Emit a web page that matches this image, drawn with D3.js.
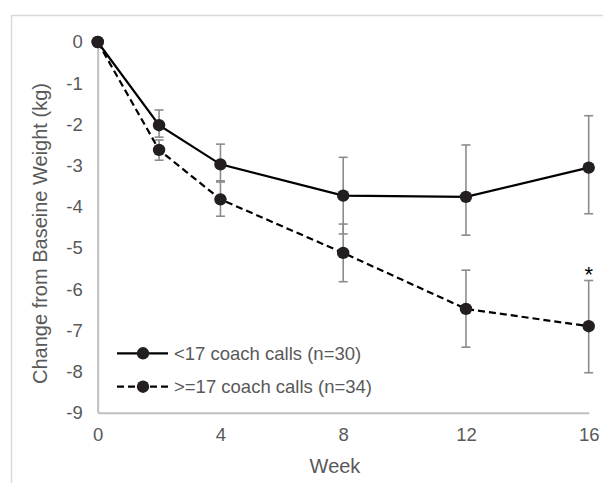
<!DOCTYPE html>
<html><head><meta charset="utf-8">
<script src="https://cdn.jsdelivr.net/npm/d3@7"></script>
<style>body{margin:0;background:#fff}svg{display:block}text{font-family:"Liberation Sans",Arial,sans-serif}</style>
</head><body>
<script>
const weeks = [0, 2, 4, 8, 12, 16];
const xTicks = [0, 4, 8, 12, 16];
const yTicks = [0, -1, -2, -3, -4, -5, -6, -7, -8, -9];
const seriesNames = ["<17 coach calls (n=30)", ">=17 coach calls (n=34)"];
const lowCalls = [0, -2.02, -2.97, -3.73, -3.76, -3.05];
const lowUpper = [0, -1.65, -2.48, -2.80, -2.50, -1.79];
const lowLower = [0, -2.31, -3.40, -4.66, -4.69, -4.17];
const highCalls = [0, -2.62, -3.82, -5.12, -6.48, -6.90];
const highUpper = [0, -2.38, -3.37, -4.42, -5.54, -5.79];
const highLower = [0, -2.87, -4.23, -5.82, -7.41, -8.03];
const sigMarks = [{week: 16, label: "*"}];

const W = 603, H = 483;
const svg = d3.select("body").append("svg").attr("width", W).attr("height", H);
// outer chart border
svg.append("rect").attr("x", 11.5).attr("y", 15.5).attr("width", W).attr("height", H)
  .attr("fill", "none").attr("stroke", "#d9d9d9").attr("stroke-width", 1.5);

const x = d3.scaleLinear().domain([0, 16]).range([97.7, 588.7]);
const y = d3.scaleLinear().domain([0, -9]).range([42, 412.7]);
const axisColor = "#bfbfbf", textColor = "#595959";

// axes
const xAxis = svg.append("g").attr("transform", `translate(0,${y(-9)})`)
  .call(d3.axisBottom(x).tickValues(xTicks).tickSize(0).tickPadding(15).tickFormat(d3.format("d")));
const yAxis = svg.append("g").attr("transform", `translate(${x(0)},0)`)
  .call(d3.axisLeft(y).tickValues(yTicks).tickSize(0).tickPadding(15).tickFormat(d => d === 0 ? "0" : "-" + Math.abs(d)));
[xAxis, yAxis].forEach(g => {
  g.select(".domain").attr("stroke", axisColor).attr("stroke-width", 2);
  g.selectAll("text").attr("fill", textColor).attr("font-size", 18.5);
});
xAxis.selectAll("text").attr("dy", "0.71em");

svg.append("text").attr("x", 335).attr("y", 473).attr("text-anchor", "middle")
  .attr("fill", textColor).attr("font-size", 20).text("Week");
svg.append("text").attr("transform", `translate(47,${y(-4.65)}) rotate(-90)`).attr("text-anchor", "middle")
  .attr("fill", textColor).attr("font-size", 20).text("Change from Baseine Weight (kg)");

const series = [
  {vals: lowCalls, up: lowUpper, lo: lowLower, dash: null},
  {vals: highCalls, up: highUpper, lo: highLower, dash: "7,4"}
];
// error bars
series.forEach(s => {
  const g = svg.append("g").attr("stroke", "#8c8c8c").attr("stroke-width", 1.6);
  weeks.forEach((w, i) => {
    if (s.up[i] === s.lo[i]) return;
    g.append("line").attr("x1", x(w)).attr("x2", x(w)).attr("y1", y(s.up[i])).attr("y2", y(s.lo[i]));
    [s.up[i], s.lo[i]].forEach(v => g.append("line").attr("x1", x(w) - 4.5).attr("x2", x(w) + 4.5).attr("y1", y(v)).attr("y2", y(v)));
  });
});
const line = d3.line().x((d, i) => x(weeks[i])).y(d => y(d));
series.forEach(s => {
  svg.append("path").datum(s.vals).attr("d", line).attr("fill", "none").attr("stroke", "#000")
    .attr("stroke-width", 2.2).attr("stroke-dasharray", s.dash);
});
series.forEach(s => {
  svg.selectAll(null).data(s.vals).enter().append("circle")
    .attr("cx", (d, i) => x(weeks[i])).attr("cy", d => y(d)).attr("r", 6.2).attr("fill", "#231f20");
});
// significance
sigMarks.forEach(m => {
  const i = weeks.indexOf(m.week);
  svg.append("text").attr("x", x(m.week)).attr("y", y(highUpper[i]) + 2).attr("text-anchor", "middle")
    .attr("fill", "#000").attr("font-size", 22).text(m.label);
});
// legend
const legY = [353.3, 386.7];
series.forEach((s, k) => {
  svg.append("line").attr("x1", 117).attr("x2", 168).attr("y1", legY[k]).attr("y2", legY[k])
    .attr("stroke", "#000").attr("stroke-width", 2.2).attr("stroke-dasharray", s.dash);
  svg.append("circle").attr("cx", 143).attr("cy", legY[k]).attr("r", 6.2).attr("fill", "#231f20");
  svg.append("text").attr("x", 174).attr("y", legY[k]).attr("dy", "0.35em")
    .attr("fill", textColor).attr("font-size", 18.5).text(seriesNames[k]);
});
</script>
</body></html>
